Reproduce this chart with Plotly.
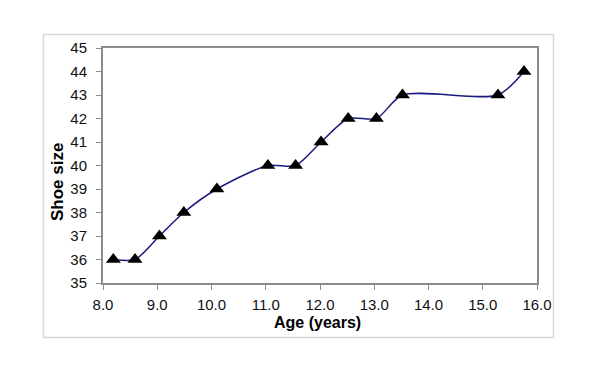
import plotly.graph_objects as go

age_years = [8.19, 8.59, 9.04, 9.49, 10.10, 11.04, 11.55, 12.02, 12.52, 13.04, 13.52, 15.28, 15.76]
shoe_size = [36, 36, 37, 38, 39, 40, 40, 41, 42, 42, 43, 43, 44]
x_ticks = [8, 9, 10, 11, 12, 13, 14, 15, 16]
y_ticks = [35, 36, 37, 38, 39, 40, 41, 42, 43, 44, 45]

fig = go.Figure()
fig.add_trace(go.Scatter(
    x=age_years, y=shoe_size, mode="lines+markers",
    line=dict(color="#1a1a80", width=1.5, shape="spline", smoothing=0.75),
    marker=dict(symbol="triangle-up", size=13, color="black"),
    cliponaxis=False, showlegend=False,
))

L, R, T, B = 103, 63, 48, 96
pw, ph = 600 - L - R, 379 - T - B

def px(xp):
    return (xp - L) / pw

def py(yp):
    return (379 - B - yp) / ph

fig.add_shape(type="rect", xref="paper", yref="paper",
              x0=px(43.5), x1=px(553.5), y0=py(337.5), y1=py(34.5),
              line=dict(color="#d9d9d9", width=1.5), layer="below")

fam = "Liberation Sans, Arial, sans-serif"
axis_font = dict(family=fam, size=15, color="#111111")
fig.update_xaxes(range=[8, 16], tickvals=x_ticks, tickformat=".1f",
                 showgrid=False, zeroline=False, showline=True, mirror=True,
                 linecolor="#8c8c8c", linewidth=2, ticks="outside", ticklen=5,
                 tickcolor="#8c8c8c", tickfont=axis_font, ticklabelstandoff=2,
                 automargin=False)
fig.update_yaxes(range=[35, 45], tickvals=y_ticks,
                 showgrid=False, zeroline=False, showline=True, mirror=True,
                 linecolor="#8c8c8c", linewidth=2, ticks="outside", ticklen=5,
                 tickcolor="#8c8c8c", tickfont=axis_font, ticklabelstandoff=6,
                 automargin=False)

fig.add_annotation(text="<b>Age (years)</b>", xref="paper", yref="paper",
                   x=px(317), y=py(322), xanchor="center", yanchor="middle",
                   showarrow=False, font=dict(family=fam, size=16, color="black"))
fig.add_annotation(text="<b>Shoe size</b>", xref="paper", yref="paper",
                   x=px(58), y=py(182), xanchor="center", yanchor="middle",
                   textangle=-90, showarrow=False,
                   font=dict(family=fam, size=17, color="black"))

fig.update_layout(width=600, height=379, margin=dict(l=L, r=R, t=T, b=B),
                  paper_bgcolor="white", plot_bgcolor="white")
fig.write_html("out.html", config={"displayModeBar": False},
               post_script="document.body.style.margin='0px';")
